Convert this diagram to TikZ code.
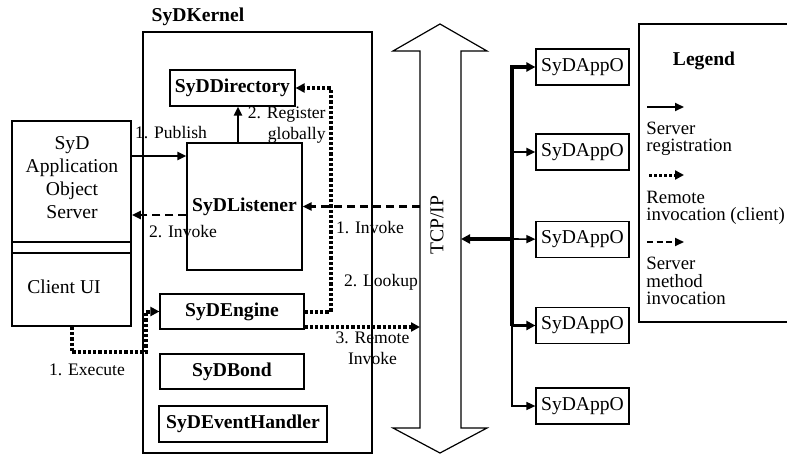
\documentclass[tikz,border=0pt]{standalone}
\usepackage{fontspec}
\setmainfont{Liberation Serif}
\usetikzlibrary{arrows.meta}
\tikzset{
  comp/.style={draw, line width=0.6pt, inner sep=0pt, font=\fontsize{9.8}{11}\selectfont\bfseries},
  appo/.style={draw, line width=0.6pt, inner sep=0pt, minimum width=46.5pt, minimum height=18pt, font=\fontsize{9.8}{11}\selectfont},
  txt/.style={inner sep=0pt, font=\fontsize{9.8}{11.5}\selectfont},
  lbl/.style={inner sep=0pt, font=\fontsize{8.8}{10.5}\selectfont},
  legtxt/.style={inner sep=0pt, anchor=west, align=left, font=\fontsize{9.4}{8.6}\selectfont},
  reg/.style={line width=1.3pt, -{Triangle[length=4.5pt,width=4pt]}},
  remote/.style={line width=2pt, dash pattern=on 1.6pt off 1pt, -{Triangle[length=4.5pt,width=4.5pt]}},
  srvinv/.style={line width=1.4pt, dash pattern=on 4pt off 2.5pt, -{Triangle[length=4.5pt,width=4pt]}},
}
\begin{document}
\begin{tikzpicture}[x=0.5pt,y=-0.5pt]
\useasboundingbox (0,0) rectangle (787,455);
\clip (0,0) rectangle (787,455);
% kernel and its parts
\node[draw, line width=1pt, minimum width=114.5pt, minimum height=210.5pt, inner sep=0pt] (kernel) at (257.5,242.5) {};
\node[inner sep=0pt, font=\fontsize{9.8}{11}\selectfont\bfseries] (kname) at (198,17) {SyDKernel};
\node[comp, minimum width=62.5pt, minimum height=18pt] (directory) at (232.5,88) {SyDDirectory};
\node[comp, minimum width=57.5pt, minimum height=63.5pt] (listener) at (244.5,206.5) {SyDListener};
\node[comp, minimum width=72pt, minimum height=17.5pt] (engine) at (232,311.5) {SyDEngine};
\node[comp, minimum width=72pt, minimum height=17.5pt] (bond) at (232,371.5) {SyDBond};
\node[comp, minimum width=84pt, minimum height=18pt] (handler) at (243,424) {SyDEventHandler};
% application object server
\node[draw, line width=0.9pt, minimum width=59.5pt, minimum height=102.5pt, inner sep=0pt] (srv) at (71.5,223.5) {};
\draw[line width=0.9pt] (srv.west |- 0,242) -- (srv.east |- 0,242) (srv.west |- 0,253) -- (srv.east |- 0,253);
\node[txt, align=center] (srvname) at (72,177.5) {SyD\\Application\\Object\\Server};
\node[txt] (client) at (64,287) {Client UI};
% TCP/IP
\draw[line width=0.6pt] (420,51) -- (393,51) -- (440,24) -- (487,51) -- (461,51) -- (461,428) -- (487,428) -- (440,453) -- (393,428) -- (420,428) -- cycle;
\node[txt, rotate=90] (tcp) at (437,225) {TCP/IP};
\coordinate (tcpL) at (420,239);
\coordinate (tcpR) at (461,239);
% remote objects
\foreach \i/\yy in {1/67,2/152,3/239.5,4/325.5,5/406}
  \node[appo] (app\i) at (582.5,\yy) {SyDAppO};
\coordinate (bus) at (512,239);
\draw[line width=1.8pt, -{Triangle[length=4.5pt,width=4.5pt]}] (bus |- app4) |- (app1);
\draw[line width=1.6pt, -{Triangle[length=4.5pt,width=4.5pt]}] (bus |- app4) -- (app4);
\draw[line width=0.8pt, -{Triangle[length=4.5pt,width=4pt]}] (bus |- app4) |- (app5);
\draw[line width=1pt, -{Triangle[length=4.5pt,width=4pt]}] (bus |- app2) -- (app2);
\draw[line width=0.8pt, -{Triangle[length=4.5pt,width=4pt]}] (bus) -- (app3);
\draw[line width=1.8pt, {Triangle[length=4.5pt,width=4.5pt]}-] (tcpR) -- (bus);
% connectors
\draw[reg] (srv.east |- 0,156) -- (listener.west |- 0,156);
\draw[reg] (listener.north -| 238,0) -- (directory.south -| 238,0);
\draw[remote] (engine.east) -| ([xshift=17.5pt]directory.east) -- (directory.east);
\draw[srvinv] (tcpL |- listener.east) -- (listener.east);
\draw[srvinv] (listener.west |- 0,215) -- (srv.east |- 0,215);
\draw[remote] (engine.east |- 0,327) -- (tcpL |- 0,327);
\draw[remote] (srv.south) |- (146,352) |- (engine.west);
\node[lbl] (publish) at (171,133) {1. Publish};
\node[lbl, align=right, anchor=east] (register) at (326,125) {2. Register\\globally};
\node[lbl] (invoke2) at (183,232) {2. Invoke};
\node[lbl] (invoke1) at (370,228) {1. Invoke};
\node[lbl] (lookup) at (381,282) {2. Lookup};
\node[lbl, align=center] (rinvoke) at (372.5,348.5) {3. Remote\\Invoke};
\node[lbl] (execute) at (87,370) {1. Execute};
% legend
\draw[line width=0.6pt] (639,24) rectangle (820,322);
\node[inner sep=0pt, font=\fontsize{9.8}{11}\selectfont\bfseries] (legtitle) at (704,61) {Legend};
\coordinate (la) at (647,107); \coordinate (lb) at (684,107);
\coordinate (lc) at (649,175); \coordinate (ld) at (684,175);
\coordinate (le) at (647,242); \coordinate (lf) at (684,242);
\draw[line width=1pt, -{Triangle[length=4.5pt,width=4pt]}] (la) -- (lb);
\draw[line width=1.5pt, dash pattern=on 1.5pt off 1pt, -{Triangle[length=4.5pt,width=4.5pt]}] (lc) -- (ld);
\draw[line width=0.9pt, dash pattern=on 3pt off 1.8pt, -{Triangle[length=4.5pt,width=4pt]}] (le) -- (lf);
\node[legtxt] (legreg) at (646,139) {Server\\registration};
\node[legtxt] (legrem) at (646,208) {Remote\\invocation (client)};
\node[legtxt, font=\fontsize{9.4}{8.9}\selectfont] (legsrv) at (646,281) {Server\\method\\invocation};
\end{tikzpicture}
\end{document}
